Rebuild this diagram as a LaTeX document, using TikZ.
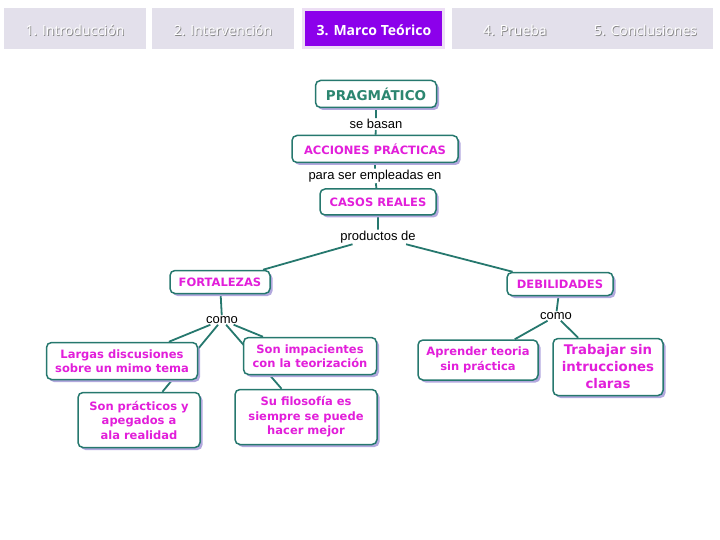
\documentclass[tikz,border=0pt]{standalone}
\usepackage{xcolor,tikz,fontspec}
\usetikzlibrary{positioning,backgrounds,shadows}
\newfontfamily\mapfont{DejaVu Sans}
\newfontfamily\labfont{Liberation Sans}
\newfontfamily\tabfont{Open Sans}
\definecolor{tabgrey}{RGB}{227,224,235}
\definecolor{tabedge}{RGB}{236,222,244}
\definecolor{tabon}{RGB}{140,0,235}
\definecolor{mapteal}{RGB}{38,120,110}
\definecolor{headteal}{RGB}{44,134,112}
\definecolor{magenta}{RGB}{226,30,218}
\definecolor{shade}{RGB}{178,168,222}
\tikzset{
  tab/.style={fill=tabgrey,minimum height=41,inner sep=0pt},
  tabtxt/.style={font=\tabfont\fontsize{14}{16}\selectfont,text=white},
  tabshadow/.style={tabtxt,text=gray!95},
  concept/.style={draw=mapteal,line width=1.5pt,fill=white,rounded corners=5pt,align=center,
    inner sep=0pt,text=magenta,font=\mapfont\bfseries\fontsize{11.5}{14.5}\selectfont,
    drop shadow={shadow xshift=2.5pt,shadow yshift=-2.5pt,fill=shade,opacity=1}},
  lab/.style={font=\labfont\fontsize{13}{15}\selectfont,inner sep=1pt},
  conn/.style={draw=mapteal,line width=1.8pt}
}
\begin{document}
\begin{tikzpicture}[x=1pt,y=-1pt]
  \useasboundingbox (0,0) rectangle (720,540);
  % menu bar
  \foreach \n/\x/\w in {tabA/75/142,tabB/223/142,tabD/515/126,tabE/645.5/135}{
    \node[tab,minimum width=\w] (\n) at (\x,28.5) {};
  }
  \node[tab,fill=tabon,draw=tabedge,line width=3pt,minimum width=140,minimum height=38] (tabC) at (373.5,28.5) {};
  \node[tabshadow] at (75.8,30.8) {1. Introducción};
  \node[tabtxt] (tA) at (75,30) {1. Introducción};
  \node[tabshadow] at (223.8,30.8) {2. Intervención};
  \node[tabtxt] (tB) at (223,30) {2. Intervención};
  \node[tabtxt,font=\tabfont\bfseries\fontsize{14}{16}\selectfont] (tC) at (374,30) {3. Marco Teórico};
  \node[tabshadow] at (515.8,30.8) {4. Prueba};
  \node[tabtxt] (tD) at (515,30) {4. Prueba};
  \node[tabshadow] at (646.3,30.8) {5. Conclusiones};
  \node[tabtxt] (tE) at (645.5,30) {5. Conclusiones};

  % concept map
  \node[concept,minimum width=121,minimum height=27,text=headteal,
        font=\mapfont\bfseries\fontsize{13.5}{16}\selectfont] (prag) at (376,94) {PRAGMÁTICO};
  \node[lab] (basan) at (376,124) {se basan};
  \node[concept,minimum width=166,minimum height=27] (acc) at (375,149) {ACCIONES PRÁCTICAS};
  \node[lab] (empl) at (375,176) {para ser empleadas en};
  \node[concept,minimum width=116,minimum height=26] (casos) at (378,202) {CASOS REALES};
  \node[lab] (prod) at (378,237) {productos de};

  \node[concept,minimum width=100,minimum height=23] (fort) at (220,282) {FORTALEZAS};
  \node[concept,minimum width=106,minimum height=23] (deb) at (560,284) {DEBILIDADES};
  \node[lab] (comoL) at (222,320) {como};
  \node[lab] (comoR) at (556,316) {como};

  \node[concept,minimum width=151,minimum height=37] (largas) at (122,361) {Largas discusiones\\sobre un mimo tema};
  \node[concept,minimum width=133,minimum height=37] (impac) at (310,356) {Son impacientes\\con la teorización};
  \node[concept,minimum width=122,minimum height=55] (pract) at (139,420) {Son prácticos y\\apegados a\\ala realidad};
  \node[concept,minimum width=142,minimum height=55] (filos) at (306,417) {Su filosofía es\\siempre se puede\\hacer mejor};
  \node[concept,minimum width=120,minimum height=40] (aprend) at (478,360) {Aprender teoria\\sin práctica};
  \node[concept,minimum width=110,minimum height=57,
        font=\mapfont\bfseries\fontsize{13.3}{17}\selectfont] (trab) at (608,367) {Trabajar sin\\intrucciones\\claras};

  \begin{scope}[on background layer]
    \draw[conn] (prag) -- (basan) (basan) -- (acc) (acc) -- (empl) (empl) -- (casos) (casos) -- (prod);
    \draw[conn] (prod) -- (fort) (prod) -- (deb);
    \draw[conn] (fort) -- (comoL) (deb) -- (comoR);
    \foreach \c in {largas,pract,impac,filos} \draw[conn] (comoL) -- (\c);
    \foreach \c in {aprend,trab} \draw[conn] (comoR) -- (\c);
  \end{scope}
\end{tikzpicture}
\end{document}
